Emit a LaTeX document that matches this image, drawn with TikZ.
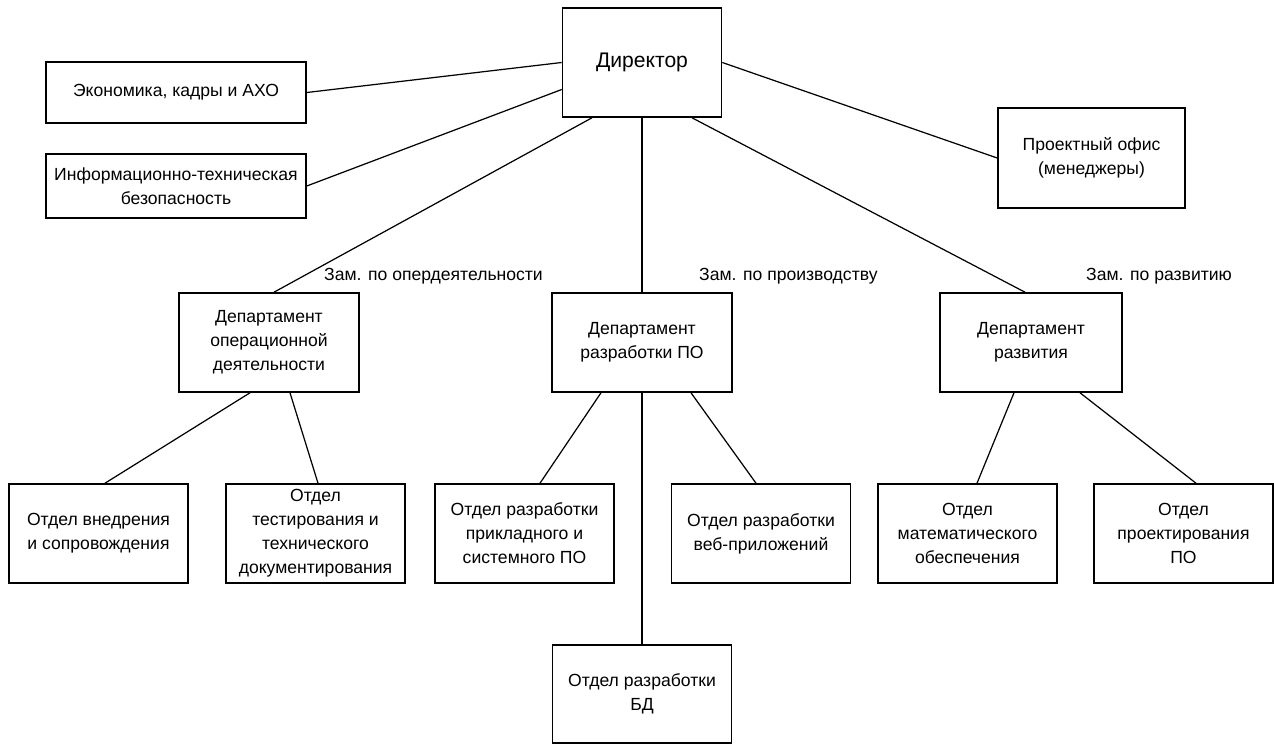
\documentclass[tikz,border=0pt]{standalone}
\usepackage{fontspec}
\setmainfont{Liberation Sans}
\usepackage{tikz}
\usetikzlibrary{positioning, calc}

\begin{document}
\begin{tikzpicture}[
    box/.style={rectangle, draw, line width=0.9pt, minimum width=3.58cm, minimum height=1.98cm, align=center, inner sep=2pt, font=\fontsize{10}{13.6}\selectfont},
    link/.style={line width=0.7pt},
    zam/.style={anchor=west, font=\fontsize{10}{13.6}\selectfont},
]
\useasboundingbox (0,0) rectangle (25.48,14.88);

\node[box, minimum width=3.18cm, minimum height=2.18cm, font=\fontsize{12}{15}\selectfont] (dir) at (12.84,13.63) {Директор};
\node[box, minimum width=5.2cm, minimum height=1.22cm] (econ) at (3.52,13.03) {Экономика, кадры и АХО};
\node[box, minimum width=5.2cm, minimum height=1.28cm] (infsec) at (3.52,11.16) {Информационно-техническая\\безопасность};
\node[box, minimum width=3.74cm, minimum height=2.0cm] (pmo) at (21.83,11.72) {Проектный офис\\(менеджеры)};

\node[box, minimum width=3.6cm] (depops) at (5.38,8.03) {Департамент\\операционной\\деятельности};
\node[box, minimum width=3.6cm] (depsw) at (12.84,8.03) {Департамент\\разработки ПО};
\node[box, minimum width=3.64cm] (depdev) at (20.62,8.03) {Департамент\\развития};

\node[box] (impl) at (1.97,4.21) {Отдел внедрения\\и сопровождения};
\node[box] (test) at (6.31,4.21) {Отдел\\тестирования и\\технического\\документирования};
\node[box] (app) at (10.49,4.21) {Отдел разработки\\прикладного и\\системного ПО};
\node[box] (web) at (15.22,4.21) {Отдел разработки\\веб-приложений};
\node[box] (math) at (19.35,4.21) {Отдел\\математического\\обеспечения};
\node[box] (design) at (23.67,4.21) {Отдел\\проектирования\\ПО};
\node[box, minimum height=1.96cm] (db) at (12.84,1.0) {Отдел разработки\\БД};

\node[zam] (zops) at (6.36,9.36) {Зам. по опердеятельности};
\node[zam] (zsw) at (13.86,9.36) {Зам. по производству};
\node[zam] (zdev) at (21.6,9.36) {Зам. по развитию};

\draw[link] (dir.west) -- (econ.east);
\draw[link] ([yshift=-0.54cm]dir.west) -- (infsec.east);
\draw[link] (dir.east) -- (pmo.west);
\draw[link] ([xshift=-1cm]dir.south) -- ([xshift=0.1cm]depops.north);
\draw[link] (dir.south) -- (depsw.north);
\draw[link] ([xshift=1cm]dir.south) -- ([xshift=-0.12cm]depdev.north);

\draw[link] ([xshift=-0.38cm]depops.south) -- ([xshift=0.13cm]impl.north);
\draw[link] ([xshift=0.42cm]depops.south) -- ([xshift=0.05cm]test.north);
\draw[link] ([xshift=-0.82cm]depsw.south) -- ([xshift=0.31cm]app.north);
\draw[link] (depsw.south) -- (db.north);
\draw[link] ([xshift=0.98cm]depsw.south) -- ([xshift=-0.1cm]web.north);
\draw[link] ([xshift=-0.34cm]depdev.south) -- ([xshift=0.19cm]math.north);
\draw[link] ([xshift=0.98cm]depdev.south) -- ([xshift=0.25cm]design.north);
\end{tikzpicture}
\end{document}
